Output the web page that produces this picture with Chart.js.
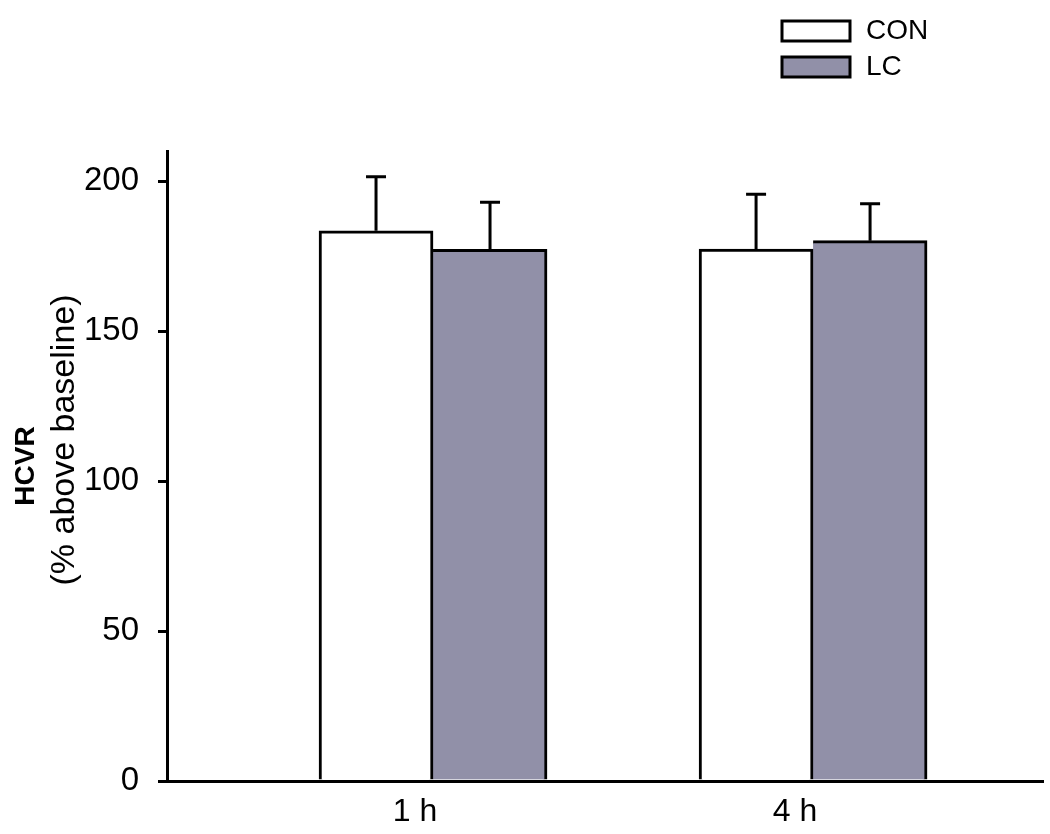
<!DOCTYPE html>
<html>
<head>
<meta charset="utf-8">
<script src="https://cdn.jsdelivr.net/npm/chart.js@4"></script>
<style>
  body { margin: 0; background: #fff; }
  #wrap { width: 1050px; height: 834px; position: relative; }
</style>
</head>
<body>
<div id="wrap"><canvas id="hcvr-chart"></canvas></div>
<script>
// Data
const categories = ['1 h', '4 h'];
const conValues = [183.4, 177.3];
const conErrors = [18.0, 18.3];
const lcValues = [177.2, 180.1];
const lcErrors = [15.7, 12.3];
const yTicks = [0, 50, 100, 150, 200];

const FONT = '"Liberation Sans", Arial, sans-serif';

// bars sit on a linear x scale, one unit per category
const toPoints = (vals) => vals.map((v, i) => ({ x: i + 1, y: v }));

// upper error bars only
const errorBars = {
  id: 'errorBars',
  afterDatasetsDraw(chart) {
    const ctx = chart.ctx;
    const yScale = chart.scales.y;
    ctx.save();
    ctx.strokeStyle = '#000';
    ctx.lineWidth = 3;
    chart.data.datasets.forEach((ds, di) => {
      const meta = chart.getDatasetMeta(di);
      meta.data.forEach((bar, i) => {
        const top = yScale.getPixelForValue(ds.data[i].y + ds.errors[i]);
        ctx.beginPath();
        ctx.moveTo(bar.x, bar.y);
        ctx.lineTo(bar.x, top);
        ctx.moveTo(bar.x - 10, top);
        ctx.lineTo(bar.x + 10, top);
        ctx.stroke();
      });
    });
    ctx.restore();
  }
};

// legend in the top right corner, and the two-part y title
const decorations = {
  id: 'decorations',
  afterDraw(chart) {
    const ctx = chart.ctx;
    ctx.save();
    chart.data.datasets.forEach((ds, i) => {
      const y = 21 + i * 36;
      ctx.fillStyle = ds.backgroundColor;
      ctx.fillRect(782, y, 68, 20);
      ctx.strokeStyle = '#000';
      ctx.lineWidth = 3;
      ctx.strokeRect(782, y, 68, 20);
      ctx.fillStyle = '#000';
      ctx.font = '28px ' + FONT;
      ctx.textBaseline = 'middle';
      ctx.textAlign = 'left';
      ctx.fillText(ds.label, 866, y + 10);
    });

    const area = chart.chartArea;
    const midY = (area.top + area.bottom) / 2;
    ctx.fillStyle = '#000';
    ctx.textAlign = 'center';
    ctx.textBaseline = 'middle';
    ctx.translate(26, midY);
    ctx.rotate(-Math.PI / 2);
    ctx.font = 'bold 28px ' + FONT;
    ctx.fillText('HCVR', 0, 0);
    ctx.rotate(Math.PI / 2);
    ctx.translate(39, -26);
    ctx.rotate(-Math.PI / 2);
    ctx.font = '34px ' + FONT;
    ctx.fillText('(% above baseline)', 0, 0);
    ctx.restore();
  }
};

const ctx = document.getElementById('hcvr-chart').getContext('2d');
new Chart(ctx, {
  type: 'bar',
  data: {
    datasets: [{
      label: 'CON',
      data: toPoints(conValues),
      errors: conErrors,
      backgroundColor: '#ffffff',
      borderColor: '#000000',
      borderWidth: { top: 3, left: 3, right: 3, bottom: 0 },
      barThickness: 114
    }, {
      label: 'LC',
      data: toPoints(lcValues),
      errors: lcErrors,
      backgroundColor: '#9190a8',
      borderColor: '#000000',
      // shares its left edge with the CON bar
      borderWidth: { top: 3, left: 0, right: 3, bottom: 0 },
      barThickness: 114
    }]
  },
  options: {
    responsive: true,
    maintainAspectRatio: false,
    animation: false,
    layout: { padding: { top: 151, right: 7, left: 0, bottom: 0 } },
    plugins: {
      legend: { display: false },
      tooltip: { enabled: false }
    },
    scales: {
      x: {
        type: 'linear',
        min: 0.3,
        max: 2.605,
        offset: false,
        afterFit: (scale) => { scale.height = 53; },
        afterBuildTicks: (scale) => {
          scale.ticks = categories.map((c, i) => ({ value: i + 1 }));
        },
        grid: { display: false, drawTicks: false, offset: false },
        border: { display: true, color: '#000', width: 3 },
        ticks: {
          color: '#000',
          font: { family: FONT, size: 32 },
          padding: 12,
          labelOffset: -18,
          maxRotation: 0,
          callback: (v) => categories[Math.round(v) - 1]
        }
      },
      y: {
        min: 0,
        max: 210,
        afterFit: (scale) => { scale.width = 167; },
        afterBuildTicks: (scale) => {
          scale.ticks = yTicks.map(v => ({ value: v }));
        },
        grid: {
          display: true,
          drawOnChartArea: false,
          drawTicks: true,
          tickLength: 9,
          color: '#000',
          lineWidth: 3
        },
        border: { display: true, color: '#000', width: 3 },
        ticks: {
          color: '#000',
          font: { family: FONT, size: 33 },
          padding: 19
        }
      }
    }
  },
  plugins: [errorBars, decorations]
});
</script>
</body>
</html>
